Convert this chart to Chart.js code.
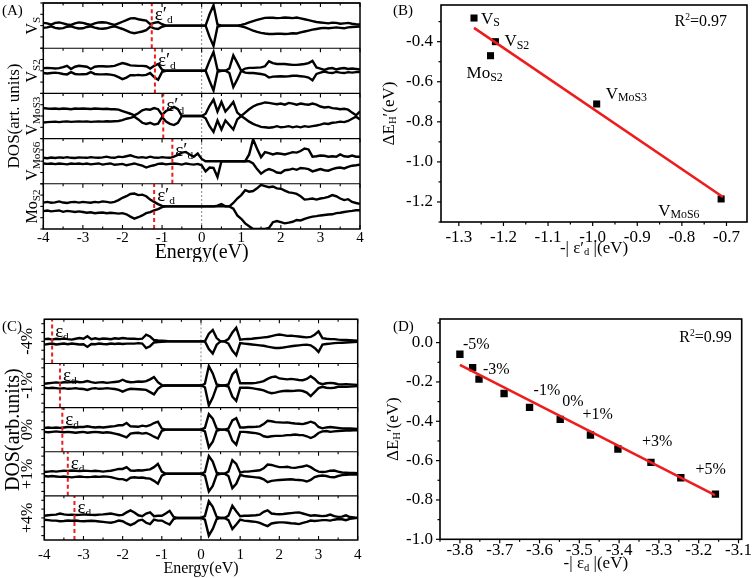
<!DOCTYPE html>
<html>
<head>
<meta charset="utf-8">
<script src="https://cdn.jsdelivr.net/npm/chart.js@4.4.1/dist/chart.umd.min.js"></script>
<style>
  html, body { margin: 0; padding: 0; background: #fff; }
  body { position: relative; width: 756px; height: 578px; overflow: hidden; }
  canvas { position: absolute; }
</style>
</head>
<body>
<canvas id="chartA" width="380" height="262" style="left:0;top:0"></canvas>
<canvas id="chartB" width="376" height="262" style="left:380px;top:0"></canvas>
<canvas id="chartC" width="380" height="283" style="left:0;top:295px"></canvas>
<canvas id="chartD" width="376" height="283" style="left:380px;top:295px"></canvas>
<script>
// energy grid of the DOS curves, -4 .. 4 eV every 0.1 eV
var energies = [];
for (var i = 0; i <= 80; i++) energies.push(Math.round((-4 + i * 0.1) * 10) / 10);
var energyTicks = [-4, -3, -2, -1, 0, 1, 2, 3, 4];
var fermiLevel = 0;

// (A) DOS of the vacancy structures, spin up / spin down
var vsUp = [
  0.12,0.10,0.04,0.12,0.14,0.10,0.05,0.03,0.10,0.14,
  0.12,0.07,0.03,0.10,0.14,0.15,0.13,0.08,0.03,0.10,
  0.17,0.24,0.32,0.33,0.28,0.25,0.22,0.06,0.12,0.16,
  0.06,0,0,0,0,0,0,0,0,0,
  0,0,0.5,0.9,0.05,0,0,0,0,0,
  0.03,0.08,0.14,0.2,0.25,0.3,0.34,0.35,0.35,0.33,
  0.34,0.36,0.35,0.33,0.36,0.32,0.28,0.24,0.2,0.16,
  0.14,0.12,0.1,0.13,0.12,0.08,0.1,0.12,0.08,0.06,
  0.05];
var vsDown = [
  -0.10,-0.08,-0.03,-0.10,-0.13,-0.11,-0.05,-0.03,-0.09,-0.13,
  -0.12,-0.06,-0.03,-0.09,-0.13,-0.14,-0.12,-0.07,-0.03,-0.09,
  -0.15,-0.22,-0.30,-0.34,-0.30,-0.26,-0.20,-0.05,-0.12,-0.15,
  -0.05,0,0,0,0,0,0,0,0,0,
  0,0,-0.5,-0.9,-0.05,0,0,0,0,0,
  -0.03,-0.08,-0.15,-0.22,-0.28,-0.32,-0.35,-0.37,-0.37,-0.36,
  -0.36,-0.37,-0.36,-0.34,-0.35,-0.30,-0.26,-0.22,-0.18,-0.15,
  -0.12,-0.10,-0.12,-0.10,-0.08,-0.10,-0.12,-0.08,-0.06,-0.05,
  -0.04];
var vs2Up = [
  0.12,0.13,0.12,0.10,0.12,0.16,0.22,0.08,0.18,0.22,
  0.20,0.18,0.08,0.18,0.20,0.20,0.19,0.20,0.22,0.28,
  0.34,0.30,0.24,0.23,0.22,0.22,0.20,0.10,0.22,0.30,
  0.05,0,0,0,0,0,0,0,0,0,
  0,0,0.45,0.83,0.05,0,0,0.1,0.68,0.35,
  0,0.10,0.13,0.13,0.14,0.15,0.20,0.42,0.34,0.30,
  0.30,0.30,0.28,0.26,0.26,0.28,0.30,0.34,0.44,0.15,
  0.10,0.04,0.10,0.12,0.06,0.10,0.12,0.08,0.10,0.08,
  0.06];
var vs2Down = [
  -0.10,-0.12,-0.10,-0.08,-0.10,-0.14,-0.16,-0.06,-0.14,-0.16,
  -0.15,-0.14,-0.06,-0.14,-0.16,-0.16,-0.15,-0.17,-0.20,-0.28,
  -0.37,-0.30,-0.20,-0.20,-0.18,-0.20,-0.18,-0.10,-0.28,-0.40,
  -0.05,0,0,0,0,0,0,0,0,0,
  0,0,-0.45,-0.87,-0.05,0,0,-0.1,-0.72,-0.38,
  0,-0.08,-0.10,-0.10,-0.12,-0.14,-0.18,-0.30,-0.26,-0.25,
  -0.24,-0.25,-0.24,-0.22,-0.22,-0.24,-0.26,-0.30,-0.42,-0.14,
  -0.08,-0.03,-0.08,-0.10,-0.05,-0.08,-0.10,-0.06,-0.08,-0.06,
  -0.05];
var vmos3Up = [
  0.35,0.33,0.32,0.33,0.31,0.33,0.32,0.30,0.33,0.32,
  0.33,0.32,0.31,0.33,0.32,0.31,0.32,0.30,0.30,0.28,
  0.22,0.16,0.10,0.03,0.12,0.25,0.30,0.28,0.35,0.30,
  0.05,0.22,0.30,0.40,0.30,0,0,0,0,0,
  0,0.10,0.45,0.73,0.20,0.62,0.20,0.40,0.62,0.15,
  0,0.15,0.30,0.42,0.50,0.55,0.60,0.58,0.55,0.52,
  0.55,0.50,0.58,0.55,0.50,0.55,0.52,0.50,0.55,0.50,
  0.42,0.38,0.40,0.35,0.33,0.30,0.32,0.28,0.15,0.03,
  0.20];
var vmos3Down = [
  -0.29,-0.27,-0.26,-0.25,-0.27,-0.25,-0.24,-0.26,-0.25,-0.24,
  -0.25,-0.24,-0.26,-0.25,-0.24,-0.25,-0.23,-0.24,-0.23,-0.22,
  -0.18,-0.12,-0.08,-0.03,-0.15,-0.30,-0.35,-0.30,-0.38,-0.34,
  -0.05,-0.25,-0.35,-0.40,-0.30,0,0,0,0,0,
  0,-0.10,-0.45,-0.70,-0.20,-0.60,-0.20,-0.40,-0.60,-0.15,
  0,-0.12,-0.25,-0.35,-0.42,-0.48,-0.50,-0.52,-0.50,-0.45,
  -0.50,-0.48,-0.45,-0.50,-0.46,-0.50,-0.45,-0.48,-0.45,-0.42,
  -0.38,-0.33,-0.35,-0.30,-0.28,-0.25,-0.27,-0.22,-0.12,-0.03,
  -0.15];
var vmos6Up = [
  0.15,0.13,0.16,0.14,0.17,0.15,0.18,0.15,0.14,0.17,
  0.16,0.15,0.18,0.16,0.15,0.17,0.20,0.16,0.15,0.20,
  0.18,0.22,0.26,0.20,0.16,0.18,0.15,0.20,0.16,0.15,
  0.18,0.16,0.15,0.20,0.28,0.38,0.41,0.30,0.20,0.34,
  0.10,0,0,0,0,0,0,0,0,0,
  0,0,0.30,0.97,0.55,0.18,0.40,0.36,0.30,0.35,
  0.33,0.30,0.35,0.40,0.38,0.45,0.56,0.52,0.20,0.22,
  0.25,0.24,0.20,0.22,0.20,0.30,0.22,0.20,0.25,0.20,
  0.20];
var vmos6Down = [
  -0.10,-0.12,-0.10,-0.13,-0.10,-0.12,-0.14,-0.10,-0.12,-0.10,
  -0.13,-0.10,-0.14,-0.12,-0.10,-0.15,-0.12,-0.10,-0.16,-0.14,
  -0.12,-0.18,-0.14,-0.10,-0.15,-0.20,-0.28,-0.22,-0.18,-0.12,
  -0.10,-0.14,-0.12,-0.10,-0.12,-0.15,-0.10,-0.13,-0.15,-0.12,
  -0.18,-0.45,-0.28,-0.30,-0.70,0,0,0,0,0,
  0,0,0,-0.10,-0.35,-0.55,-0.42,-0.35,-0.40,-0.50,
  -0.52,-0.40,-0.38,-0.33,-0.38,-0.30,-0.32,-0.35,-0.45,-0.40,
  -0.35,-0.40,-0.42,-0.35,-0.30,-0.28,-0.32,-0.25,-0.20,-0.18,
  -0.15];
var mos2Up = [
  0.17,0.20,0.16,0.18,0.22,0.17,0.15,0.19,0.20,0.17,
  0.20,0.18,0.16,0.20,0.18,0.22,0.20,0.17,0.20,0.28,
  0.38,0.45,0.55,0.57,0.50,0.52,0.45,0.30,0.20,0.10,
  0.02,0,0,0,0,0,0,0,0,0,
  0,0,0,0,0.03,0.10,0,0,0.15,0.35,
  0.50,0.72,0.65,0.68,0.80,0.95,0.90,0.85,0.88,0.80,
  0.78,0.70,0.62,0.60,0.55,0.45,0.30,0.32,0.35,0.30,
  0.35,0.38,0.42,0.50,0.45,0.35,0.28,0.32,0.20,0.15,
  0.11];
var mos2Down = [
  -0.21,-0.18,-0.22,-0.20,-0.18,-0.24,-0.20,-0.22,-0.25,-0.22,
  -0.25,-0.28,-0.26,-0.30,-0.28,-0.27,-0.30,-0.28,-0.30,-0.32,
  -0.30,-0.35,-0.45,-0.54,-0.48,-0.40,-0.30,-0.25,-0.18,-0.12,
  -0.03,0,0,0,0,0,0,0,0,0,
  0,0,0,0,0,0,0,0,-0.10,-0.40,
  -0.55,-0.75,-0.88,-1.0,-1.0,-1.0,-1.0,-0.95,-0.70,-0.65,
  -0.70,-0.75,-0.72,-0.68,-0.60,-0.62,-0.55,-0.50,-0.45,-0.43,
  -0.40,-0.38,-0.36,-0.35,-0.30,-0.28,-0.25,-0.22,-0.20,-0.17,
  -0.17];

// (C) DOS under strain
var sM4Up = [
  0.10,0.12,0.08,0.12,0.10,0.13,0.10,0.08,0.12,0.15,
  0.12,0.23,0.10,0.14,0.10,0.13,0.12,0.10,0.14,0.12,
  0.15,0.13,0.12,0.12,0.10,0.12,0.30,0.22,0.06,0.04,
  0.03,0.02,0,0,0,0,0,0,0,0,
  0,0,0.35,0.52,0.15,0,0,0.10,0.40,0.62,
  0.08,0.10,0.11,0.12,0.14,0.16,0.18,0.20,0.24,0.28,
  0.31,0.28,0.25,0.26,0.24,0.22,0.20,0.18,0.20,0.30,
  0.45,0.15,0.12,0.10,0.10,0.08,0.07,0.06,0.05,0.04,
  0.03];
var sM4Down = [
  -0.15,-0.12,-0.10,-0.14,-0.12,-0.10,-0.13,-0.10,-0.12,-0.14,
  -0.13,-0.25,-0.12,-0.13,-0.10,-0.12,-0.13,-0.10,-0.12,-0.10,
  -0.12,-0.10,-0.10,-0.10,-0.08,-0.10,-0.30,-0.22,-0.05,-0.03,
  -0.02,-0.01,0,0,0,0,0,0,0,0,
  0,0,-0.35,-0.55,-0.15,0,0,-0.10,-0.42,-0.63,
  -0.08,-0.10,-0.12,-0.14,-0.16,-0.18,-0.20,-0.24,-0.27,-0.30,
  -0.30,-0.28,-0.25,-0.22,-0.20,-0.18,-0.16,-0.15,-0.18,-0.30,
  -0.48,-0.15,-0.12,-0.10,-0.08,-0.07,-0.06,-0.05,-0.04,-0.03,
  -0.02];
var sM1Up = [
  0.08,0.10,0.12,0.14,0.12,0.15,0.14,0.16,0.18,0.15,
  0.16,0.20,0.15,0.12,0.14,0.15,0.12,0.14,0.16,0.18,
  0.26,0.18,0.15,0.16,0.18,0.17,0.20,0.28,0.38,0.15,
  0.02,0,0,0,0,0,0,0,0,0,
  0,0.08,0.88,0.55,0.05,0,0,0.05,0.50,0.70,
  0.10,0.10,0.10,0.10,0.12,0.15,0.20,0.30,0.38,0.41,
  0.32,0.30,0.28,0.30,0.28,0.25,0.24,0.30,0.42,0.30,
  0.12,0.06,0.10,0.12,0.10,0.06,0.05,0.06,0.05,0.04,
  0.03];
var sM1Down = [
  -0.10,-0.12,-0.10,-0.12,-0.14,-0.12,-0.15,-0.14,-0.12,-0.15,
  -0.16,-0.20,-0.14,-0.12,-0.15,-0.14,-0.12,-0.14,-0.16,-0.20,
  -0.28,-0.20,-0.15,-0.16,-0.17,-0.18,-0.20,-0.30,-0.40,-0.15,
  -0.02,0,0,0,0,0,0,0,0,0,
  0,-0.08,-0.90,-0.55,-0.05,0,0,-0.05,-0.50,-0.70,
  -0.10,-0.10,-0.10,-0.12,-0.15,-0.18,-0.22,-0.30,-0.35,-0.32,
  -0.28,-0.25,-0.24,-0.25,-0.24,-0.22,-0.25,-0.32,-0.48,-0.30,
  -0.12,-0.06,-0.10,-0.12,-0.10,-0.06,-0.05,-0.06,-0.05,-0.04,
  -0.03];
var s0Up = [
  0.08,0.10,0.08,0.10,0.08,0.10,0.12,0.12,0.10,0.12,
  0.12,0.15,0.12,0.10,0.12,0.10,0.12,0.14,0.16,0.20,
  0.20,0.30,0.15,0.14,0.13,0.18,0.15,0.20,0.30,0.36,
  0.05,0,0,0,0,0,0,0,0,0,
  0,0.08,0.70,0.50,0.05,0,0,0.05,0.42,0.52,
  0.10,0.10,0.12,0.12,0.13,0.15,0.25,0.40,0.38,0.34,
  0.33,0.32,0.33,0.30,0.28,0.27,0.25,0.30,0.36,0.30,
  0.12,0.06,0.10,0.12,0.10,0.08,0.06,0.05,0.05,0.04,
  0.03];
var s0Down = [
  -0.10,-0.12,-0.10,-0.08,-0.10,-0.12,-0.10,-0.12,-0.14,-0.12,
  -0.10,-0.14,-0.12,-0.10,-0.12,-0.14,-0.12,-0.14,-0.18,-0.22,
  -0.28,-0.35,-0.18,-0.15,-0.14,-0.18,-0.15,-0.22,-0.32,-0.40,
  -0.05,0,0,0,0,0,0,0,0,0,
  0,-0.08,-0.80,-0.55,-0.05,0,0,-0.05,-0.50,-0.68,
  -0.10,-0.10,-0.12,-0.14,-0.16,-0.20,-0.30,-0.33,-0.30,-0.28,
  -0.28,-0.27,-0.25,-0.24,-0.22,-0.24,-0.25,-0.30,-0.38,-0.30,
  -0.15,-0.08,-0.06,-0.10,-0.08,-0.06,-0.05,-0.04,-0.04,-0.03,
  -0.03];
var sP1Up = [
  0.08,0.10,0.12,0.10,0.12,0.14,0.13,0.15,0.14,0.12,
  0.14,0.13,0.12,0.14,0.12,0.10,0.12,0.14,0.18,0.22,
  0.22,0.30,0.15,0.14,0.16,0.15,0.18,0.20,0.30,0.45,
  0.10,0,0,0,0,0,0,0,0,0,
  0,0.08,0.80,0.55,0.05,0,0,0.10,0.62,0.45,
  0.05,0.10,0.10,0.12,0.14,0.16,0.25,0.42,0.40,0.35,
  0.30,0.30,0.32,0.28,0.27,0.30,0.33,0.38,0.30,0.18,
  0.10,0.08,0.10,0.14,0.15,0.10,0.06,0.05,0.04,0.04,
  0.03];
var sP1Down = [
  -0.10,-0.12,-0.10,-0.12,-0.14,-0.12,-0.14,-0.16,-0.14,-0.12,
  -0.14,-0.15,-0.14,-0.12,-0.14,-0.12,-0.13,-0.15,-0.20,-0.24,
  -0.24,-0.30,-0.18,-0.16,-0.18,-0.17,-0.20,-0.22,-0.32,-0.45,
  -0.08,0,0,0,0,0,0,0,0,0,
  0,-0.08,-0.80,-0.55,-0.05,0,0,-0.10,-0.65,-0.45,
  -0.05,-0.10,-0.12,-0.14,-0.16,-0.18,-0.25,-0.38,-0.32,-0.30,
  -0.28,-0.27,-0.26,-0.25,-0.27,-0.28,-0.30,-0.35,-0.28,-0.15,
  -0.10,-0.08,-0.10,-0.15,-0.16,-0.10,-0.06,-0.05,-0.04,-0.04,
  -0.03];
var sP4Up = [
  0.10,0.12,0.14,0.15,0.20,0.16,0.14,0.15,0.13,0.14,
  0.16,0.15,0.14,0.13,0.15,0.16,0.18,0.20,0.16,0.12,
  0.14,0.25,0.34,0.25,0.12,0.08,0.20,0.25,0.08,0.10,
  0.10,0.20,0.32,0.05,0,0,0,0,0,0,
  0,0.08,0.75,0.50,0.05,0,0,0.10,0.55,0.30,
  0.08,0.10,0.10,0.11,0.12,0.15,0.28,0.34,0.20,0.18,
  0.17,0.18,0.20,0.22,0.24,0.25,0.20,0.15,0.10,0.12,
  0.10,0.08,0.10,0.15,0.08,0.05,0.06,0.12,0.04,0.02,
  0];
var sP4Down = [
  -0.08,-0.10,-0.12,-0.12,-0.15,-0.14,-0.12,-0.13,-0.12,-0.14,
  -0.15,-0.14,-0.13,-0.14,-0.16,-0.18,-0.20,-0.22,-0.18,-0.12,
  -0.15,-0.25,-0.33,-0.25,-0.12,-0.08,-0.22,-0.28,-0.08,-0.12,
  -0.12,-0.22,-0.30,-0.05,0,0,0,0,0,0,
  0,-0.08,-0.80,-0.50,-0.05,0,0,-0.10,-0.50,-0.30,
  -0.08,-0.12,-0.14,-0.16,-0.18,-0.22,-0.30,-0.37,-0.25,-0.22,
  -0.20,-0.20,-0.22,-0.24,-0.25,-0.28,-0.22,-0.18,-0.12,-0.14,
  -0.12,-0.10,-0.10,-0.12,-0.08,-0.05,-0.06,-0.10,-0.04,-0.02,
  0];

// names (text parts: 0 normal, 1 subscript, 2 superscript) and d-band centres
var dosNamesA = [[['V',0],['S',1]], [['V',0],['S2',1]], [['V',0],['MoS3',1]], [['V',0],['MoS6',1]], [['Mo',0],['S2',1]]];
var epsA = [-1.26, -1.18, -0.97, -0.74, -1.20];
var dosNamesC = [[['-4%',0]], [['-1%',0]], [['0%',0]], [['+1%',0]], [['+4%',0]]];
var epsC = [-3.80, -3.60, -3.54, -3.40, -3.23];

// (B) hydrogen adsorption vs d-band centre, vacancies
var namesB = [[['V',0],['S',1]], [['V',0],['S2',1]], [['Mo',0],['S2',1]], [['V',0],['MoS3',1]], [['V',0],['MoS6',1]]];
var epsB = [-1.266, -1.218, -1.229, -0.991, -0.712];
var dEB = [-0.282, -0.40, -0.47, -0.711, -1.185];
var fitXB = [-1.266, -0.708];
var fitYB = [-0.331, -1.175];
var xTicksB = [-1.3, -1.2, -1.1, -1.0, -0.9, -0.8, -0.7];
var yTicksB = [-1.2, -1.0, -0.8, -0.6, -0.4];

// (D) hydrogen adsorption vs d-band centre, strain
var strainsD = ['-5%', '-4%', '-3%', '-2%', '-1%', '0%', '+1%', '+2%', '+3%', '+4%', '+5%'];
var shownD = ['-5%', '-3%', '-1%', '0%', '+1%', '+3%', '+5%'];
var epsD = [-3.80, -3.768, -3.752, -3.689, -3.625, -3.548, -3.472, -3.403, -3.32, -3.245, -3.158];
var dED = [-0.059, -0.127, -0.186, -0.259, -0.329, -0.39, -0.47, -0.541, -0.609, -0.687, -0.77];
var fitXD = [-3.80, -3.159];
var fitYD = [-0.113, -0.775];
var xTicksD = [-3.8, -3.7, -3.6, -3.5, -3.4, -3.3, -3.2, -3.1];
var yTicksD = [-1.0, -0.8, -0.6, -0.4, -0.2, 0.0];

var FONT = '"Liberation Serif", "Times New Roman", serif';
var RED = '#ee1c1c';
Chart.defaults.font.family = FONT;
Chart.defaults.color = '#000';

function richText(ctx, parts, x, y, size, align, rot, subRatio) {
  var r = subRatio || 0.66;
  var fontOf = function(k) { return (k ? size * r : size) + 'px ' + FONT; };
  ctx.save();
  ctx.translate(x, y);
  if (rot) ctx.rotate(rot);
  var w = 0;
  parts.forEach(function(p) { ctx.font = fontOf(p[1]); w += ctx.measureText(p[0]).width; });
  var cx = align === 'center' ? -w / 2 : align === 'right' ? -w : 0;
  ctx.fillStyle = '#000';
  ctx.textAlign = 'left';
  ctx.textBaseline = 'alphabetic';
  parts.forEach(function(p) {
    ctx.font = fontOf(p[1]);
    var dy = p[1] === 1 ? size * 0.15 : p[1] === 2 ? -size * 0.4 : 0;
    ctx.fillText(p[0], cx, size * 0.34 + dy);
    cx += ctx.measureText(p[0]).width;
  });
  ctx.restore();
}

function line(ctx, x1, y1, x2, y2) {
  ctx.beginPath(); ctx.moveTo(x1, y1); ctx.lineTo(x2, y2); ctx.stroke();
}

function noPad(s) { s.paddingTop = 0; s.paddingBottom = 0; s.paddingLeft = 0; s.paddingRight = 0; }

function dosChart(id, c) {
  var datasets = [];
  var scales = {
    x: {
      type: 'linear', min: -4, max: 4,
      afterBuildTicks: function(s) { s.ticks = energyTicks.map(function(v) { return {value: v}; }); },
      ticks: {font: {size: 15, lineHeight: 1.2}, padding: c.tickPad, maxRotation: 0, callback: function(v) { return String(v); }},
      grid: {display: false, drawTicks: false},
      border: {display: false},
      afterFit: function(s) { s.height = c.xAxisH; noPad(s); }
    }
  };
  c.ups.forEach(function(up, i) {
    var yid = 'y' + i;
    scales[yid] = {type: 'linear', display: false, min: -1, max: 1, stack: 'dos', stackWeight: 1, weight: c.ups.length - i};
    datasets.push({data: energies.map(function(e, k) { return {x: e, y: up[k]}; }), yAxisID: yid,
      borderColor: '#000', borderWidth: 2.4, pointRadius: 0, order: 1});
    datasets.push({data: energies.map(function(e, k) { return {x: e, y: c.downs[i][k]}; }), yAxisID: yid,
      borderColor: '#000', borderWidth: 2.4, pointRadius: 0, order: 1});
    datasets.push({data: [{x: c.eps[i], y: -1}, {x: c.eps[i], y: 1}], yAxisID: yid,
      borderColor: RED, borderWidth: 2, borderDash: [4, 3], pointRadius: 0, order: 0});
  });

  var decor = {
    id: 'dosDecor',
    beforeDatasetsDraw: function(chart) {
      var ctx = chart.ctx, a = chart.chartArea, x = chart.scales.x;
      var px = x.getPixelForValue(fermiLevel);
      ctx.save();
      ctx.strokeStyle = '#888'; ctx.lineWidth = 1; ctx.setLineDash([2, 2]);
      line(ctx, px, a.top, px, a.bottom);
      ctx.restore();
    },
    afterDatasetsDraw: function(chart) {
      var ctx = chart.ctx, a = chart.chartArea, x = chart.scales.x;
      ctx.save();
      ctx.strokeStyle = '#000';
      c.names.forEach(function(nm, i) {
        var ys = chart.scales['y' + i];
        ctx.lineWidth = 1.1;
        line(ctx, a.left, ys.top, a.right, ys.top);
        for (var v = -4; v <= 4.001; v += 0.5) {
          var p = x.getPixelForValue(v);
          var len = Math.abs(v - Math.round(v)) < 1e-6 ? 4 : 2.5;
          line(ctx, p, ys.top, p, ys.top + len);
        }
        c.yTicks.forEach(function(t) {
          var q = ys.getPixelForValue(t);
          line(ctx, a.left - 3, q, a.left, q);
        });
        richText(ctx, nm, c.nameX, (ys.top + ys.bottom) / 2, c.nameSize, 'center', -Math.PI / 2, 0.7);
        richText(ctx, c.epsLabel, x.getPixelForValue(c.eps[i]) + 3, ys.top + 11, 19, 'left', 0, 0.6);
      });
      for (var v = -4; v <= 4.001; v += 0.5) {
        var p = x.getPixelForValue(v);
        var len = Math.abs(v - Math.round(v)) < 1e-6 ? 4 : 2.5;
        line(ctx, p, a.bottom, p, a.bottom - len);
      }
      ctx.lineWidth = 1.5;
      ctx.strokeRect(a.left, a.top, a.right - a.left, a.bottom - a.top);
      ctx.restore();
      richText(ctx, [[c.title, 0]], c.titleX, (a.top + a.bottom) / 2, c.titleSize, 'center', -Math.PI / 2);
      richText(ctx, [['Energy(eV)', 0]], (a.left + a.right) / 2, a.bottom + c.xTitleDy, c.xTitleSize, 'center');
      richText(ctx, [[c.letter, 0]], c.letterPos[0], c.letterPos[1], 15, 'left');
    }
  };

  new Chart(document.getElementById(id), {
    type: 'line',
    data: {datasets: datasets},
    options: {
      responsive: false, animation: false, events: [],
      layout: {padding: c.padding},
      plugins: {legend: {display: false}, tooltip: {enabled: false}},
      scales: scales
    },
    plugins: [decor]
  });
}

function scatterChart(id, c) {
  var minorOf = function(ticks, min, max) {
    var out = [];
    var step = ticks[1] - ticks[0];
    for (var k = -1; k < ticks.length; k++) {
      var m = (k < 0 ? ticks[0] - step : ticks[k]) + step / 2;
      if (m >= min - 1e-6 && m <= max + 1e-6) out.push(m);
    }
    return out;
  };
  var decor = {
    id: 'scatterDecor',
    afterDatasetsDraw: function(chart) {
      var ctx = chart.ctx, a = chart.chartArea, xs = chart.scales.x, ys = chart.scales.y;
      ctx.save();
      ctx.strokeStyle = '#000';
      ctx.lineWidth = 1.2;
      c.xTicks.forEach(function(v) { var p = xs.getPixelForValue(v); line(ctx, p, a.bottom, p, a.bottom + 4); });
      minorOf(c.xTicks, c.xMin, c.xMax).forEach(function(v) { var p = xs.getPixelForValue(v); line(ctx, p, a.bottom, p, a.bottom + 2.5); });
      c.yTicks.forEach(function(v) { var q = ys.getPixelForValue(v); line(ctx, a.left, q, a.left - 4, q); });
      minorOf(c.yTicks, c.yMin, c.yMax).forEach(function(v) { var q = ys.getPixelForValue(v); line(ctx, a.left, q, a.left - 2.5, q); });
      ctx.lineWidth = 1.6;
      ctx.strokeRect(a.left, a.top, a.right - a.left, a.bottom - a.top);
      ctx.restore();
      c.labels.forEach(function(lb, i) {
        if (!lb) return;
        var px = xs.getPixelForValue(c.xs[i]) + c.offs[i][0];
        var py = ys.getPixelForValue(c.ys[i]) + c.offs[i][1];
        richText(ctx, lb, px, py, c.labelSize, 'left', 0, 0.7);
      });
      richText(ctx, [['R', 0], ['2', 2], ['=' + c.r2, 0]], a.right - c.r2Pos[0], a.top + c.r2Pos[1], 16, 'right', 0, 0.6);
      richText(ctx, c.xTitle, (a.left + a.right) / 2 + c.xTitleShift, a.bottom + c.xTitleDy, 17, 'center', 0, 0.62);
      richText(ctx, c.yTitle, c.yTitleX, (a.top + a.bottom) / 2, 17, 'center', -Math.PI / 2, 0.62);
      richText(ctx, [[c.letter, 0]], c.letterPos[0], c.letterPos[1], 15, 'left');
    }
  };
  new Chart(document.getElementById(id), {
    type: 'scatter',
    data: {
      datasets: [
        {data: c.fitX.map(function(v, k) { return {x: v, y: c.fitY[k]}; }), showLine: true,
         borderColor: RED, borderWidth: 2.6, pointRadius: 0, order: 0},
        {data: c.xs.map(function(v, k) { return {x: v, y: c.ys[k]}; }), pointStyle: 'rect',
         pointRadius: c.pointR, backgroundColor: '#000', borderColor: '#000', borderWidth: 0, order: 1}
      ]
    },
    options: {
      responsive: false, animation: false, events: [],
      layout: {padding: c.padding},
      plugins: {legend: {display: false}, tooltip: {enabled: false}},
      scales: {
        x: {
          type: 'linear', min: c.xMin, max: c.xMax,
          afterBuildTicks: function(s) { s.ticks = c.xTicks.map(function(v) { return {value: v}; }); },
          ticks: {font: {size: 17, lineHeight: 1.2}, padding: c.xPad, maxRotation: 0, callback: function(v) { return v.toFixed(1); }},
          grid: {display: false, drawTicks: false}, border: {display: false},
          afterFit: function(s) { s.height = c.xAxisH; noPad(s); }
        },
        y: {
          type: 'linear', min: c.yMin, max: c.yMax,
          afterBuildTicks: function(s) { s.ticks = c.yTicks.map(function(v) { return {value: v}; }); },
          ticks: {font: {size: 17, lineHeight: 1.2}, padding: c.yPad, callback: function(v) { return v.toFixed(1); }},
          grid: {display: false, drawTicks: false}, border: {display: false},
          afterFit: function(s) { s.width = c.yAxisW; noPad(s); }
        }
      }
    },
    plugins: [decor]
  });
}

dosChart('chartA', {
  ups: [vsUp, vs2Up, vmos3Up, vmos6Up, mos2Up],
  downs: [vsDown, vs2Down, vmos3Down, vmos6Down, mos2Down],
  names: dosNamesA, eps: epsA, epsLabel: [['ε′', 0], ['d', 1]],
  yTicks: [-1, -0.5, 0, 0.5, 1],
  padding: {left: 43.3, right: 20, top: 3, bottom: 0}, xAxisH: 33, tickPad: 0,
  nameX: 32, nameSize: 16, title: 'DOS(art. units)', titleX: 13, titleSize: 17,
  xTitleDy: 22, xTitleSize: 20, letter: '(A)', letterPos: [2, 10]
});

dosChart('chartC', {
  ups: [sM4Up, sM1Up, s0Up, sP1Up, sP4Up],
  downs: [sM4Down, sM1Down, s0Down, sP1Down, sP4Down],
  names: dosNamesC, eps: epsC, epsLabel: [['ε', 0], ['d', 1]],
  yTicks: [-0.8, -0.4, 0, 0.4, 0.8],
  padding: {left: 44.3, right: 22.3, top: 24.3, bottom: 0}, xAxisH: 38, tickPad: 6,
  nameX: 27, nameSize: 16, title: 'DOS(arb.units)', titleX: 12, titleSize: 20,
  xTitleDy: 28, xTitleSize: 16, letter: '(C)', letterPos: [2, 31]
});

scatterChart('chartB', {
  xs: epsB, ys: dEB, fitX: fitXB, fitY: fitYB, pointR: 5,
  xMin: -1.34, xMax: -0.654, yMin: -1.3, yMax: -0.217, xTicks: xTicksB, yTicks: yTicksB,
  padding: {left: 0, right: 9, top: 1.7, bottom: 0}, yAxisW: 61, xAxisH: 40, xPad: 5, yPad: 8,
  labels: namesB, offs: [[7, 0], [9, -1], [-24, 17], [9, -11], [-63, 11]], labelSize: 17,
  r2: '0.97', r2Pos: [20, 16],
  xTitle: [['-| ε′', 0], ['d', 1], [' |(eV)', 0]], xTitleDy: 25, xTitleShift: 0,
  yTitle: [['ΔE', 0], ['H', 1], ['′(eV)', 0]], yTitleX: 8,
  letter: '(B)', letterPos: [13, 10]
});

var labelsD = strainsD.map(function(s) { return shownD.indexOf(s) >= 0 ? [[s, 0]] : null; });
var offsD = [[3, -11], null, [4, -11], null, [4, -18], [2, -19], [-8, -21.5], null, [-9, -22], null, [-20, -25.5]];
scatterChart('chartD', {
  xs: epsD, ys: dED, fitX: fitXD, fitY: fitYD, pointR: 5.2,
  xMin: -3.85, xMax: -3.092, yMin: -1.0, yMax: 0.12, xTicks: xTicksD, yTicks: yTicksD,
  padding: {left: 0, right: 14.3, top: 24, bottom: 0}, yAxisW: 60, xAxisH: 38.7, xPad: 1, yPad: 7,
  labels: labelsD, offs: offsD, labelSize: 16,
  r2: '0.99', r2Pos: [10, 17.7],
  xTitle: [['-| ε', 0], ['d', 1], [' |(eV)', 0]], xTitleDy: 23, xTitleShift: 5,
  yTitle: [['ΔE', 0], ['H', 1], ['′(eV)', 0]], yTitleX: 12,
  letter: '(D)', letterPos: [13, 31]
});
</script>
</body>
</html>
